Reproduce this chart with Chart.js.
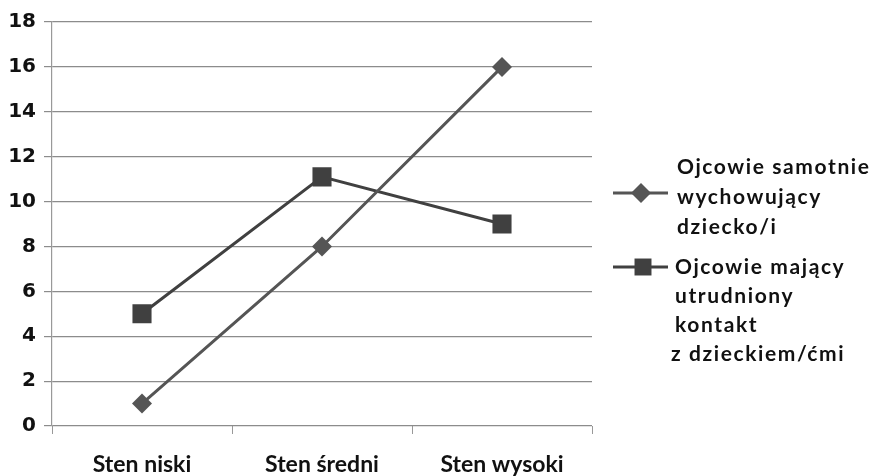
<!DOCTYPE html>
<html>
<head>
<meta charset="utf-8">
<script src="https://cdn.jsdelivr.net/npm/chart.js@4/dist/chart.umd.min.js"></script>
<style>
  html, body { margin: 0; padding: 0; background: #fff; }
  #wrap { width: 877px; height: 476px; position: relative; }
</style>
</head>
<body>
<div id="wrap"><canvas id="chart"></canvas></div>
<script>
const categories = ['Sten niski', 'Sten średni', 'Sten wysoki']
const samotni = [1, 8, 16]
const utrudniony = [5, 11.1, 9]
const legendLines = [
  ['Ojcowie samotnie', 'wychowujący', 'dziecko/i'],
  ['Ojcowie mający', 'utrudniony', 'kontakt', 'z dzieckiem/ćmi']
]

// legend drawn by hand, multi-line labels
const sideLegend = {
  id: 'sideLegend',
  afterDraw(chart) {
    const ctx = chart.ctx
    const sets = chart.data.datasets
    const spots = [
      { y: 193, mark: 641, textX: [677, 677, 677], firstY: 167, step: 30 },
      { y: 267, mark: 643, textX: [675, 675, 675, 671], firstY: 267, step: 29 }
    ]
    ctx.save()
    sets.forEach((ds, i) => {
      const s = spots[i]
      ctx.strokeStyle = ds.borderColor
      ctx.lineWidth = 3
      ctx.beginPath()
      ctx.moveTo(613, s.y)
      ctx.lineTo(668, s.y)
      ctx.stroke()
      ctx.fillStyle = ds.pointBackgroundColor
      Chart.helpers.drawPoint(ctx, {
        pointStyle: ds.pointStyle,
        rotation: 0,
        borderWidth: 0,
        radius: ds.pointStyle === 'rect' ? 12 : 10
      }, s.mark, s.y)
      ctx.fillStyle = '#111'
      ctx.font = 'bold 21px Lato'
      ctx.letterSpacing = '1.6px'
      ctx.textBaseline = 'middle'
      ctx.textAlign = 'left'
      legendLines[i].forEach((t, k) => {
        ctx.fillText(t, s.textX[k], s.firstY + k * s.step)
      })
    })
    ctx.restore()
  }
}

const data = {
  labels: categories,
  datasets: [
    {
      label: 'Ojcowie samotnie wychowujący dziecko/i',
      data: samotni,
      borderColor: '#555555',
      backgroundColor: '#555555',
      pointBackgroundColor: '#555555',
      pointBorderWidth: 0,
      pointStyle: 'rectRot',
      pointRadius: 10,
      borderWidth: 3,
      tension: 0
    },
    {
      label: 'Ojcowie mający utrudniony kontakt z dzieckiem/ćmi',
      data: utrudniony,
      borderColor: '#404040',
      backgroundColor: '#404040',
      pointBackgroundColor: '#404040',
      pointBorderWidth: 0,
      pointStyle: 'rect',
      pointRadius: 13.5,
      borderWidth: 3,
      tension: 0
    }
  ]
}

const config = {
  type: 'line',
  data: data,
  options: {
    responsive: true,
    maintainAspectRatio: false,
    animation: false,
    layout: { padding: { top: 22, right: 285, left: 0, bottom: 0 } },
    plugins: {
      legend: { display: false },
      tooltip: { enabled: false }
    },
    scales: {
      x: {
        offset: true,
        grid: {
          offset: true,
          drawOnChartArea: false,
          drawTicks: true,
          tickLength: 8,
          color: '#999999'
        },
        border: { display: false },
        ticks: {
          color: '#111',
          font: { family: 'Lato', weight: 'bold', size: 23 },
          padding: 17
        },
        afterFit(scale) { scale.height = 50 }
      },
      y: {
        min: 0,
        max: 18,
        ticks: {
          stepSize: 2,
          color: '#111',
          font: { family: 'DejaVu Sans', weight: 'bold', size: 20 },
          padding: 8
        },
        grid: {
          color: '#8c8c8c',
          lineWidth: 1.2,
          drawTicks: true,
          tickLength: 8
        },
        border: { display: true, color: '#999999', width: 1.2 },
        afterFit(scale) { scale.width = 52 }
      }
    }
  },
  plugins: [sideLegend]
}

const chart = new Chart(document.getElementById('chart').getContext('2d'), config)
</script>
</body>
</html>
